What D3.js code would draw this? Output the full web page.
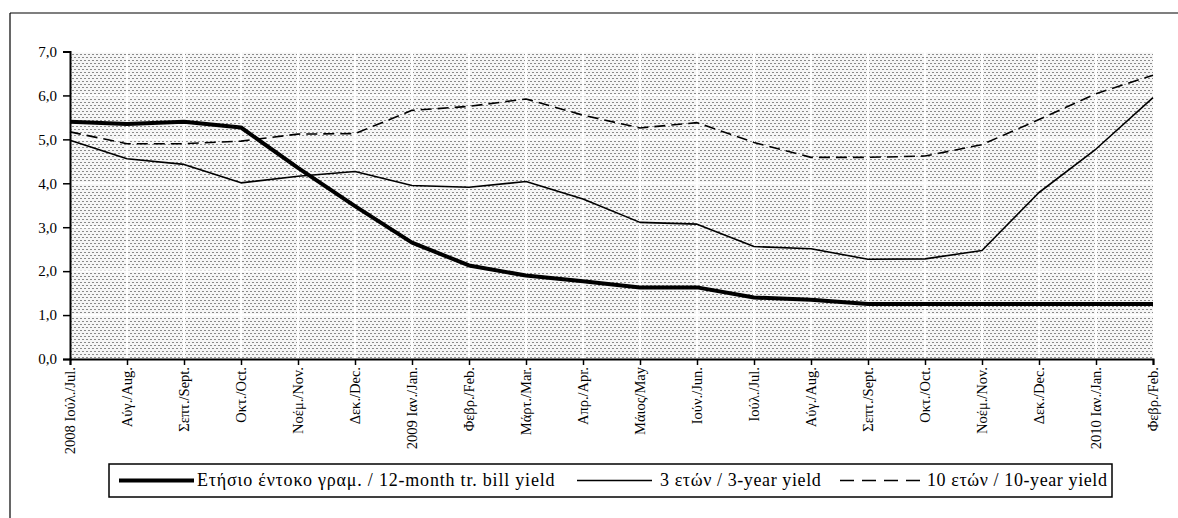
<!DOCTYPE html>
<html><head><meta charset="utf-8">
<script src="https://cdn.jsdelivr.net/npm/d3@7"></script>
<style>body{margin:0;background:#fff}svg{display:block}svg text{font-family:'Liberation Serif','Times New Roman','DejaVu Serif',serif !important}</style>
</head><body>
<svg id="c" width="1178" height="518"></svg>
<script>
const months = ["2008 Ιούλ./Jul.","Αύγ./Aug.","Σεπτ./Sept.","Οκτ./Oct.","Νοέμ./Nov.","Δεκ./Dec.","2009 Ιαν./Jan.","Φεβρ./Feb.","Μάρτ./Mar.","Απρ./Apr.","Μάιος/May","Ιούν./Jun.","Ιούλ./Jul.","Αύγ./Aug.","Σεπτ./Sept.","Οκτ./Oct.","Νοέμ./Nov.","Δεκ./Dec.","2010 Ιαν./Jan.","Φεβρ./Feb."];
const tbill12m = [5.40,5.35,5.40,5.27,4.35,3.48,2.65,2.13,1.90,1.77,1.63,1.63,1.40,1.35,1.25,1.25,1.25,1.25,1.25,1.25];
const yield3y  = [4.98,4.56,4.43,4.01,4.16,4.27,3.95,3.91,4.04,3.64,3.11,3.07,2.56,2.51,2.27,2.28,2.47,3.79,4.78,5.95];
const yield10y = [5.17,4.90,4.90,4.96,5.12,5.13,5.66,5.75,5.92,5.55,5.26,5.38,4.93,4.59,4.59,4.62,4.88,5.45,6.04,6.46];
const yTicks = [0,1,2,3,4,5,6,7];
const seriesNames = ["Ετήσιο έντοκο γραμ. / 12-month tr. bill yield","3 ετών / 3-year yield","10 ετών / 10-year yield"];

const FONT = "'Liberation Serif','Times New Roman','DejaVu Serif',serif";
const svg = d3.select("#c").attr("font-family",FONT);
const L=70, R=1153, T=51.5, B=359;
const x = d3.scalePoint().domain(d3.range(months.length)).range([L,R]);
const y = d3.scaleLinear().domain([0,7]).range([B,T]);

// outer frame
svg.append("line").attr("x1",10).attr("x2",1178).attr("y1",13).attr("y2",13).attr("stroke","#000").attr("stroke-width",1.2);
svg.append("line").attr("x1",10).attr("x2",10).attr("y1",13).attr("y2",518).attr("stroke","#000").attr("stroke-width",1.2);

// pattern
const defs = svg.append("defs");
const pat = defs.append("pattern").attr("id","dots").attr("patternUnits","userSpaceOnUse").attr("width",4).attr("height",6);
pat.append("rect").attr("width",4).attr("height",6).attr("fill","#f6f6f6");
pat.append("rect").attr("x",0).attr("y",0).attr("width",2).attr("height",1).attr("fill","#8a8a8a");
pat.append("rect").attr("x",2).attr("y",3).attr("width",2).attr("height",1).attr("fill","#8a8a8a");

svg.append("rect").attr("x",L).attr("y",T).attr("width",R-L).attr("height",B-T).attr("fill","url(#dots)");
// white grid
const grid = svg.append("g").attr("stroke","#fff").attr("stroke-width",2);
grid.selectAll("line.h").data(yTicks.slice(1)).join("line").attr("x1",L).attr("x2",R).attr("y1",d=>y(d)).attr("y2",d=>y(d));
grid.selectAll("line.v").data(d3.range(1,months.length-1)).join("line").attr("x1",d=>x(d)).attr("x2",d=>x(d)).attr("y1",T).attr("y2",B);

// axes
const yAxis = svg.append("g").attr("transform",`translate(${L},0)`)
  .call(d3.axisLeft(y).tickValues(yTicks).tickSize(7).tickPadding(6).tickFormat(d=>d3.format(".1f")(d).replace(".",",")));
const xAxis = svg.append("g").attr("transform",`translate(0,${B})`)
  .call(d3.axisBottom(x).tickSize(6).tickFormat(i=>months[i]));
[yAxis,xAxis].forEach(a=>{a.attr("font-family",FONT);
  a.select(".domain").attr("stroke","#000").attr("stroke-width",2);
  a.selectAll(".tick line").attr("stroke","#000").attr("stroke-width",1.5);
  a.selectAll("text").attr("fill","#000").attr("font-size","15px");});
xAxis.selectAll(".tick text").attr("transform","rotate(-90)").attr("text-anchor","end")
  .attr("x",-8).attr("y",0).attr("dy","0.33em").attr("font-size","14.5px");

// lines
const line = d3.line().x((d,i)=>x(i)).y(d=>y(d));
const styles = [
  {data:tbill12m, w:4, dash:null},
  {data:yield3y, w:1.6, dash:null},
  {data:yield10y, w:1.6, dash:"11,6"}
];
svg.append("g").selectAll("path").data(styles).join("path")
  .attr("d",d=>line(d.data)).attr("fill","none").attr("stroke","#000")
  .attr("stroke-width",d=>d.w).attr("stroke-dasharray",d=>d.dash).attr("stroke-linejoin","round");

// legend
svg.append("rect").attr("x",109).attr("y",464).attr("width",1003).attr("height",33).attr("fill","#fff").attr("stroke","#000").attr("stroke-width",1.5);
const legX = [{x1:119,x2:194,tx:197,ls:0.8},{x1:577,x2:652,tx:660,ls:0.6},{x1:840,x2:920,tx:927,ls:0.6}];
const lg = svg.append("g").attr("font-family",FONT).selectAll("g").data(styles).join("g");
lg.append("line").attr("x1",(d,i)=>legX[i].x1).attr("x2",(d,i)=>legX[i].x2).attr("y1",480.5).attr("y2",480.5)
  .attr("stroke","#000").attr("stroke-width",d=>d.w).attr("stroke-dasharray",d=>d.dash?"14,8":null);
lg.append("text").attr("x",(d,i)=>legX[i].tx).attr("y",486).text((d,i)=>seriesNames[i])
  .attr("font-size","18px").attr("letter-spacing",(d,i)=>legX[i].ls).attr("fill","#000");
</script>
</body></html>
